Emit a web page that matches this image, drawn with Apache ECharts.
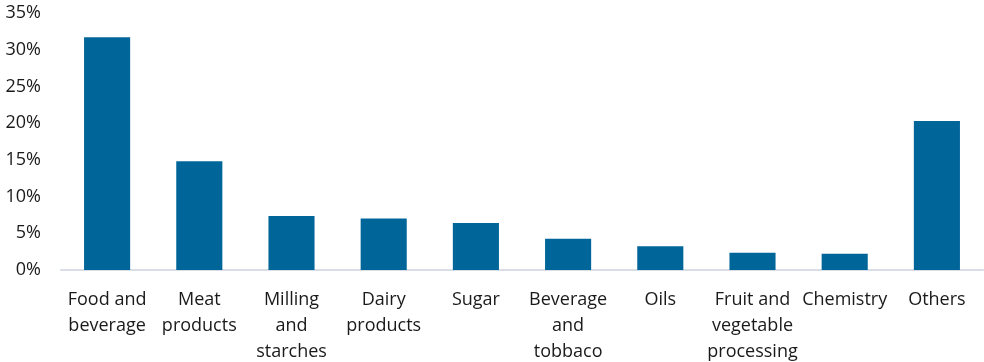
<!DOCTYPE html>
<html>
<head>
<meta charset="utf-8">
<script src="https://cdn.jsdelivr.net/npm/echarts@6/dist/echarts.min.js"></script>
<style>
  html, body { margin: 0; padding: 0; background: #fff; }
  #chart { width: 984px; height: 362px; }
</style>
</head>
<body>
<div id="chart"></div>
<script>
// Share of total by sector (percent)
const categories = [
  'Food and\nbeverage', 'Meat\nproducts', 'Milling\nand\nstarches', 'Dairy\nproducts',
  'Sugar', 'Beverage\nand\ntobbaco', 'Oils', 'Fruit and\nvegetable\nprocessing',
  'Chemistry', 'Others'
];
const shares = [31.7, 14.8, 7.35, 7.0, 6.4, 4.25, 3.25, 2.35, 2.2, 20.3];
const yTicks = { min: 0, max: 35, step: 5 };

const chart = echarts.init(document.getElementById('chart'));
const font = "'Open Sans', 'Liberation Sans', sans-serif";
chart.setOption({
  animation: false,
  grid: { left: 61, right: 1, top: 13, bottom: 92, containLabel: false, outerBoundsMode: 'none' },
  xAxis: {
    type: 'category',
    data: categories,
    axisLine: { lineStyle: { color: '#d9dde5', width: 2 } },
    axisTick: { show: false },
    axisLabel: {
      interval: 0,
      margin: 17,
      color: '#1a1a1a',
      fontFamily: font,
      fontSize: 18,
      lineHeight: 26
    }
  },
  yAxis: {
    type: 'value',
    min: yTicks.min,
    max: yTicks.max,
    interval: yTicks.step,
    splitLine: { show: false },
    axisLine: { show: false },
    axisTick: { show: false },
    axisLabel: {
      margin: 20,
      color: '#1a1a1a',
      fontFamily: font,
      fontSize: 18,
      formatter: v => v + '%'
    }
  },
  series: [{
    type: 'bar',
    data: shares,
    barWidth: '50%',
    itemStyle: { color: '#006699' }
  }]
});
</script>
</body>
</html>
